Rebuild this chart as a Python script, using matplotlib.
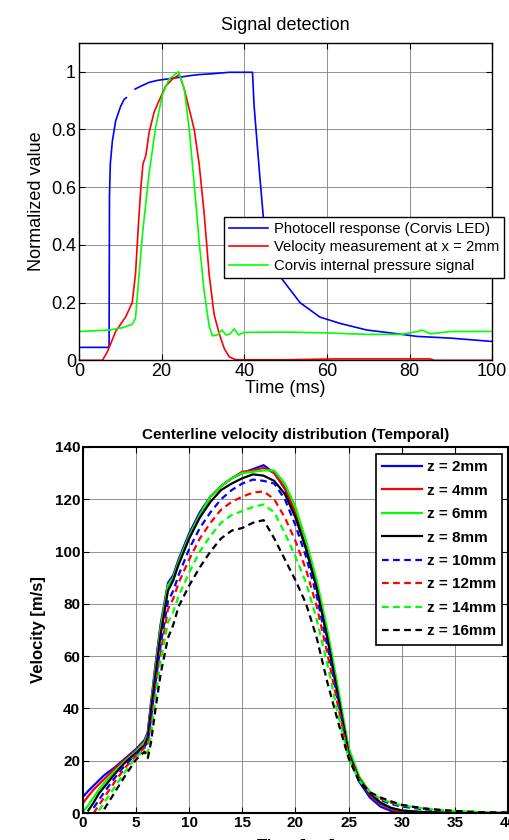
import numpy as np
import matplotlib
matplotlib.use("Agg")
import matplotlib.pyplot as plt

nan = np.nan

# --- top panel: signal detection (normalized) ---
photo_t = [0, 7.3, 7.4, 7.6, 8.1, 8.9, 10.1, 10.8, nan, 11.0, 11.5, nan, 13.6, 15, 17, 19, 21, 24,
           26.7, 29, 32.3, 36.4, 42, 42.4, 43.7, 44.6, 46, 48.7, 53.5, 58.3, 63.2, 69.7, 76, 81.8,
           90, 99.5, 100]
photo_v = [0.045, 0.045, 0.57, 0.68, 0.76, 0.83, 0.88, 0.9, nan, 0.905, 0.91, nan, 0.94, 0.95, 0.963,
           0.97, 0.974, 0.98, 0.986, 0.99, 0.993, 0.998, 0.998, 0.88, 0.65, 0.5, 0.4, 0.29, 0.2,
           0.15, 0.128, 0.105, 0.094, 0.083, 0.077, 0.066, 0.066]

vel_t = [0, 5.7, 6.9, 8.9, 11.3, 12.9, 13.7, 14.4, 15.0, 15.5, 16.2, 17.0, 18.2, 19.4, 21.0, 22.6,
         24.3, 25.5, 26.7, 27.9, 29.1, 30.3, 31.5, 32.7, 34.0, 35.2, 36.4, 38, 50, 62, 85, 86, 100]
vel_v = [0, 0, 0.03, 0.1, 0.15, 0.2, 0.3, 0.47, 0.6, 0.68, 0.71, 0.79, 0.86, 0.9, 0.95, 0.974,
         0.99, 0.94, 0.87, 0.8, 0.68, 0.51, 0.3, 0.16, 0.09, 0.04, 0.012, 0.002, 0.002, 0.005,
         0.005, 0, 0]

pres_t = [0, 7.3, 10.5, 12.9, 13.7, 14.4, 15.4, 17.0, 18.6, 20.2, 21.8, 24.1, 25.5, 26.7, 27.9,
          29.1, 30.3, 31.5, 32.3, 33.5, 34.6, 35.6, 36.5, 37.6, 38.6, 40, 50, 60, 70, 78, 82, 83,
          85, 90, 100]
pres_v = [0.1, 0.105, 0.113, 0.125, 0.146, 0.27, 0.44, 0.65, 0.81, 0.92, 0.974, 1.0, 0.94, 0.8,
          0.61, 0.41, 0.24, 0.12, 0.085, 0.088, 0.105, 0.088, 0.091, 0.109, 0.088, 0.097, 0.098,
          0.095, 0.09, 0.09, 0.1, 0.105, 0.092, 0.1, 0.1]

top_labels = ["Photocell response (Corvis LED)", "Velocity measurement at x = 2mm",
              "Corvis internal pressure signal"]

# --- bottom panel: centerline velocity ---
t_ms = [0, 0.5, 1, 1.5, 2, 3, 4, 5, 5.8, 6.1, 6.4, 6.8, 7.3, 8, 8.5, 9, 10, 11, 12, 13, 14, 15,
        16, 17, 18, 19, 20, 21, 22, 23, 24, 25, 26, 27, 28, 29, 30, 32, 34, 36, 38, 40]

z2 = [6.2, 8.5, 10.5, 12.5, 14.5, 17.5, 21, 24.5, 28, 31, 42, 56, 72, 88, 91, 97, 107, 115, 121,
      125, 128, 130, 131.5, 133, 130, 124, 114, 101, 86, 67, 45, 23, 12, 6, 2.5, 0.8, 0.3, 0, 0,
      0, 0, 0]
z4 = [3.8, 6.5, 9, 11, 13, 17, 20.5, 24, 27.5, 30.5, 41, 55, 71, 87, 90, 96, 106, 114, 121, 125,
      128, 130.5, 131, 132, 130, 124.5, 115, 102, 87, 68, 46, 24, 13, 7, 3.5, 1.5, 0.5, 0.2, 0, 0,
      0, 0]
z6 = [0.5, 3, 6, 9, 11.5, 16, 20, 23.5, 27, 30, 40, 54, 70, 87, 90, 96, 106, 114, 121, 125, 128,
      130, 130.5, 131, 131, 126, 117, 104, 89, 70, 48, 25, 14, 8, 4, 2, 1, 0.5, 0.2, 0.1, 0, 0]
z8 = [nan, 1, 4, 7.5, 10, 15, 19.5, 23, 26, 29, 39, 52, 68, 85, 89, 95, 105, 113, 119, 123.5,
      126, 128, 129.5, 129, 127, 122, 113, 101, 86, 67, 45, 23, 13, 7.5, 4, 2, 1, 0.4, 0.2, 0.1,
      0, 0]
z10 = [nan, nan, 2, 5, 8, 13.5, 18.5, 22.5, 25.5, 27, 36, 49, 64, 81, 85, 91, 101, 109, 115, 120,
       123.5, 126, 127.5, 127, 126, 120, 110, 98, 83, 64, 43, 22, 13, 8, 5, 3.5, 2.5, 1.5, 0.8,
       0.4, 0.2, 0.1]
z12 = [nan, nan, 0, 3, 6, 12, 17.5, 22, 25, 25.5, 33, 46, 61, 78, 82, 88, 97, 105, 111, 116, 119,
       121, 122.5, 123, 120, 113, 104, 93, 79, 61, 41, 22, 13, 8, 5.5, 4, 3, 1.8, 1, 0.5, 0.3, 0.2]
z14 = [nan, nan, nan, 1, 4, 10, 16, 21.5, 24, 23, 30, 43, 58, 73, 77, 83, 92, 100, 106, 111, 114,
       115.5, 117, 118, 115, 107, 98, 88, 74, 57, 38, 21, 12.5, 8, 5.5, 4, 3, 1.8, 1, 0.6, 0.3,
       0.2]
z16 = [nan, nan, nan, nan, 1.5, 8, 14.5, 20.5, 23.5, 21, 27, 39, 53, 67, 72, 79, 87, 94, 100, 105,
       108, 109, 111, 112, 105, 97, 89, 80, 67, 50, 35, 21, 12, 8, 6, 4.5, 3.2, 1.8, 1.1, 0.6,
       0.3, 0.2]
z_labels = ["z = 2mm", "z = 4mm", "z = 6mm", "z = 8mm",
            "z = 10mm", "z = 12mm", "z = 14mm", "z = 16mm"]

plt.rcParams['font.family'] = ['Liberation Sans', 'DejaVu Sans']

fig = plt.figure(figsize=(5.09, 8.40), dpi=100)

# top axes
ax1 = fig.add_axes([0.155, 0.571, 0.812, 0.378])
ax1.plot(photo_t, photo_v, color=(0, 0, 1), lw=1.2, label=top_labels[0])
ax1.plot(vel_t, vel_v, color=(1, 0, 0), lw=1.2, label=top_labels[1])
ax1.plot(pres_t, pres_v, color=(0, 1, 0), lw=1.2, label=top_labels[2])
ax1.set_xlim(0, 100)
ax1.set_ylim(0, 1.1)
ax1.set_xticks([0, 20, 40, 60, 80, 100])
ax1.set_yticks([0, 0.2, 0.4, 0.6, 0.8, 1])
ax1.set_yticklabels(["0", "0.2", "0.4", "0.6", "0.8", "1"])
ax1.grid(True, color='0.5', lw=0.6)
ax1.tick_params(direction='in', top=True, right=True, labelsize=13, length=4, pad=2)
ax1.set_title("Signal detection", fontsize=13, pad=9)
ax1.set_xlabel("Time (ms)", fontsize=13, labelpad=0)
ax1.set_ylabel("Normalized value", fontsize=13, labelpad=4)
for s in ax1.spines.values():
    s.set_linewidth(1.0)
leg1 = ax1.legend(loc='upper left', bbox_to_anchor=(0.440, 0.742), bbox_transform=fig.transFigure,
                  borderaxespad=0, fancybox=False, framealpha=1, edgecolor='black', fontsize=10.7,
                  handlelength=2.6, handletextpad=0.4, borderpad=0.35, labelspacing=0.3)
leg1.get_frame().set_linewidth(1.0)

# bottom axes
ax2 = fig.add_axes([0.163, 0.032, 0.835, 0.436])
colors = [(0, 0, 1), (1, 0, 0), (0, 1, 0), (0, 0, 0)] * 2
styles = ['-'] * 4 + [(0, (3, 2))] * 4
series = [z2, z4, z6, z8, z10, z12, z14, z16]
for v, c, ls, lab in zip(series, colors, styles, z_labels):
    ax2.plot(t_ms, v, color=c, ls=ls, lw=1.6, label=lab)
ax2.set_xlim(0, 40)
ax2.set_ylim(0, 140)
ax2.set_xticks(range(0, 45, 5))
ax2.set_yticks(range(0, 160, 20))
ax2.grid(True, color='0.5', lw=0.6)
ax2.tick_params(direction='in', top=True, right=True, labelsize=11, length=4, pad=2)
for lab in ax2.get_xticklabels() + ax2.get_yticklabels():
    lab.set_fontweight('bold')
ax2.set_title("Centerline velocity distribution (Temporal)", fontsize=11, fontweight='bold', pad=6)
ax2.set_ylabel("Velocity [m/s]", fontsize=12, fontweight='bold', labelpad=6)
ax2.set_xlabel("Time [ms]", fontsize=12, fontweight='bold')
ax2.xaxis.set_label_coords(0.5, -0.07)
for s in ax2.spines.values():
    s.set_linewidth(1.5)
leg2 = ax2.legend(loc='upper left', bbox_to_anchor=(0.739, 0.4595), bbox_transform=fig.transFigure,
                  borderaxespad=0, fancybox=False, framealpha=1, edgecolor='black',
                  prop={'size': 11, 'weight': 'bold'}, handlelength=2.6, handletextpad=0.3,
                  borderpad=0.4, labelspacing=0.62)
leg2.get_frame().set_linewidth(1.2)

fig.savefig("out.png", dpi=100)
